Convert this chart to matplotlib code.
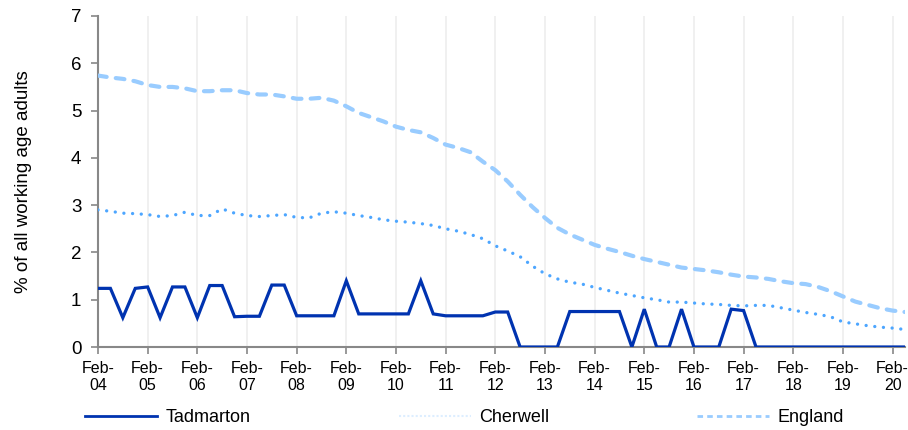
import matplotlib
matplotlib.use("Agg")
import matplotlib.pyplot as plt
from matplotlib.lines import Line2D

plt.rcParams['font.family'] = ['Liberation Sans', 'DejaVu Sans']

years = ['04', '05', '06', '07', '08', '09', '10', '11', '12', '13', '14', '15', '16', '17', '18', '19', '20']
tick_labels = ['Feb-\n' + y for y in years]

tadmarton = [1.24, 1.24, 0.62, 1.24, 1.27, 0.62, 1.27, 1.27, 0.62, 1.30, 1.30, 0.64, 0.65, 0.65, 1.31, 1.31,
             0.66, 0.66, 0.66, 0.66, 1.40, 0.70, 0.70, 0.70, 0.70, 0.70, 1.40, 0.70, 0.66, 0.66, 0.66, 0.66,
             0.74, 0.74, 0, 0, 0, 0, 0.75, 0.75, 0.75, 0.75, 0.75, 0, 0.80, 0, 0, 0.80, 0, 0, 0, 0.80, 0.77,
             0, 0, 0, 0, 0, 0, 0, 0, 0, 0, 0, 0, 0]
cherwell = [2.90, 2.87, 2.83, 2.82, 2.80, 2.76, 2.78, 2.85, 2.78, 2.78, 2.92, 2.83, 2.78, 2.76, 2.78, 2.80,
            2.74, 2.73, 2.83, 2.86, 2.83, 2.78, 2.74, 2.69, 2.66, 2.64, 2.61, 2.57, 2.50, 2.45, 2.38, 2.29,
            2.14, 2.03, 1.91, 1.71, 1.55, 1.44, 1.37, 1.33, 1.26, 1.20, 1.14, 1.09, 1.04, 1.00, 0.95, 0.95,
            0.93, 0.91, 0.90, 0.88, 0.87, 0.88, 0.88, 0.83, 0.78, 0.73, 0.69, 0.64, 0.53, 0.49, 0.45, 0.42,
            0.40, 0.37]
england = [5.74, 5.70, 5.67, 5.62, 5.54, 5.50, 5.50, 5.47, 5.41, 5.41, 5.43, 5.43, 5.37, 5.34, 5.34, 5.30,
           5.25, 5.25, 5.27, 5.21, 5.09, 4.95, 4.86, 4.77, 4.66, 4.59, 4.54, 4.42, 4.28, 4.21, 4.12, 3.92,
           3.74, 3.50, 3.22, 2.96, 2.73, 2.52, 2.38, 2.27, 2.16, 2.08, 2.01, 1.93, 1.86, 1.80, 1.74, 1.68,
           1.65, 1.62, 1.58, 1.53, 1.49, 1.47, 1.44, 1.39, 1.35, 1.33, 1.27, 1.18, 1.07, 0.96, 0.89, 0.82,
           0.77, 0.74]
series_names = ['Tadmarton', 'Cherwell', 'England']

c_tad = '#0033B0'
c_che = '#4DA6FF'
c_eng = '#99CCFF'

fig = plt.figure(figsize=(9.08, 4.30), dpi=100)
ax = fig.add_axes([98 / 908, 1 - 347 / 430, (905 - 98) / 908, (347 - 16) / 430])

x = list(range(len(england)))
ax.plot(x, england, color=c_eng, lw=3.0, linestyle=(0, (2.1, 2.2)), dash_capstyle='round', zorder=3)
ax.plot(x, cherwell, color=c_che, lw=2.4, linestyle=(0, (0.01, 2.6)), dash_capstyle='round', zorder=4)
ax.plot(x, tadmarton, color=c_tad, lw=2.3, solid_joinstyle='miter', zorder=5)

ax.set_xlim(0, len(england) - 1)
ax.set_ylim(0, 7)
tick_pos = list(range(0, len(england), 4))
ax.set_xticks(tick_pos)
ax.set_xticklabels(tick_labels, fontsize=11.5, linespacing=1.2)
ax.set_yticks(range(0, 8))
ax.tick_params(axis='y', labelsize=13.5, length=5, width=1.2, color='#888888', pad=7)
ax.tick_params(axis='x', length=5, width=1.2, color='#888888', pad=5)
ax.xaxis.grid(True, color='#EEEEEE', lw=1.2, zorder=0)
ax.set_axisbelow(True)
for s in ['top', 'right']:
    ax.spines[s].set_visible(False)
for s in ['left', 'bottom']:
    ax.spines[s].set_color('#888888')
    ax.spines[s].set_linewidth(1.5)
ax.set_ylabel('% of all working age adults', fontsize=13.5, labelpad=28)

handles = [
    Line2D([], [], color=c_tad, lw=2.0),
    Line2D([], [], color='#DDEEFF', lw=1.5, linestyle=(0, (1, 1))),
    Line2D([], [], color=c_eng, lw=2.0, linestyle=(0, (2, 1.5))),
]
fig.legend(handles, series_names, loc='center', bbox_to_anchor=(464.5 / 908, 1 - 418 / 430),
           ncol=3, frameon=False, fontsize=13, handlelength=4.0, handletextpad=0.45,
           columnspacing=8.2, borderpad=0, borderaxespad=0)

fig.savefig('out.png', dpi=100)
